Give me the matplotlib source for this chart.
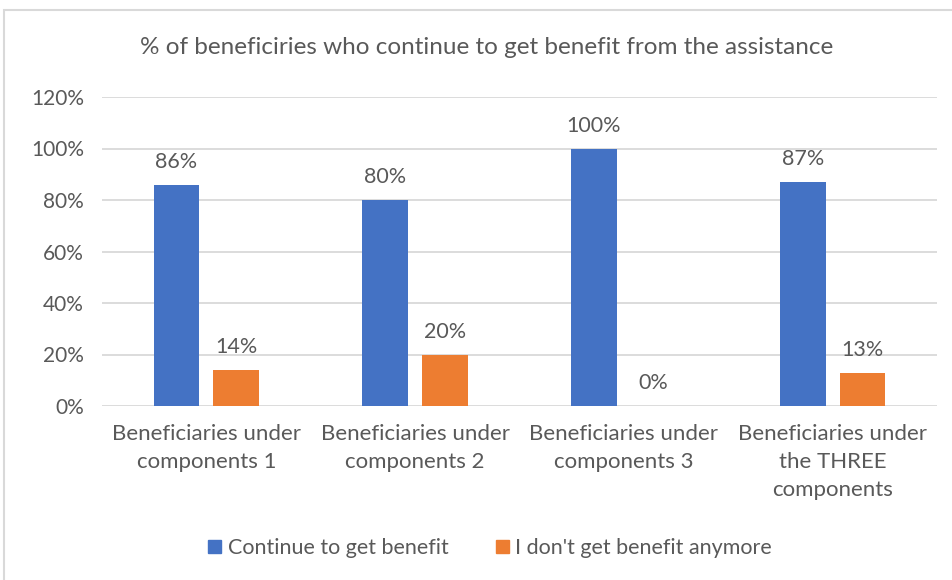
import matplotlib.pyplot as plt
import numpy as np
from matplotlib.patches import Rectangle

plt.rcParams['font.family'] = ['Lato', 'DejaVu Sans']

# Data
categories = ['Beneficiaries under\ncomponents 1',
              'Beneficiaries under\ncomponents 2',
              'Beneficiaries under\ncomponents 3',
              'Beneficiaries under\nthe THREE\ncomponents']
continue_benefit = [86, 80, 100, 87]
no_benefit = [14, 20, 0, 13]
series_names = ['Continue to get benefit', "I don't get benefit anymore"]
title = '% of beneficiries who continue to get benefit from the assistance'

blue = '#4472C4'
orange = '#ED7D31'
text_col = '#595959'

fig = plt.figure(figsize=(9.52, 5.8), dpi=100)
ax = fig.add_axes([102 / 952, 1 - 406 / 580, 835 / 952, 309 / 580])

x = np.arange(len(categories))
w = 0.22
b1 = ax.bar(x - 0.143, continue_benefit, w, color=blue, zorder=3)
b2 = ax.bar(x + 0.143, no_benefit, w, color=orange, zorder=3)

for bars, vals in ((b1, continue_benefit), (b2, no_benefit)):
    for rect, v in zip(bars, vals):
        ax.text(rect.get_x() + rect.get_width() / 2, v + 5, f'{v}%',
                ha='center', va='bottom', fontsize=15.5, color=text_col)

ax.set_xlim(-0.5, len(categories) - 0.5)
ax.set_ylim(0, 120)
ax.set_yticks(range(0, 121, 20))
ax.set_yticklabels([f'{t}%' for t in range(0, 121, 20)])
ax.set_xticks(x)
ax.set_xticklabels(categories, linespacing=1.5)
ax.tick_params(axis='y', length=0, labelsize=15, labelcolor=text_col, pad=13)
ax.tick_params(axis='x', length=0, labelsize=16, labelcolor=text_col, pad=13)
ax.grid(axis='y', color='#D9D9D9', linewidth=1.3, zorder=0)
for s in ax.spines.values():
    s.set_visible(False)

fig.text(487 / 952, 1 - 48 / 580, title, ha='center', va='center',
         fontsize=17.5, color=text_col)

handles = [Rectangle((0, 0), 1, 1, color=blue), Rectangle((0, 0), 1, 1, color=orange)]
fig.legend(handles, series_names, loc='center', bbox_to_anchor=(490 / 952, 1 - 548 / 580),
           ncol=2, frameon=False, fontsize=15.5, handlelength=0.6, handleheight=0.6,
           handletextpad=0.3, columnspacing=2.2, labelcolor=text_col)

# outer chart border
fig.patches.append(Rectangle((4 / 952, -0.01), 1.0, 1 - 10 / 580 + 0.01,
                             transform=fig.transFigure, fill=False,
                             edgecolor='#D9D9D9', linewidth=1.5))

fig.savefig('out.png', dpi=100)
